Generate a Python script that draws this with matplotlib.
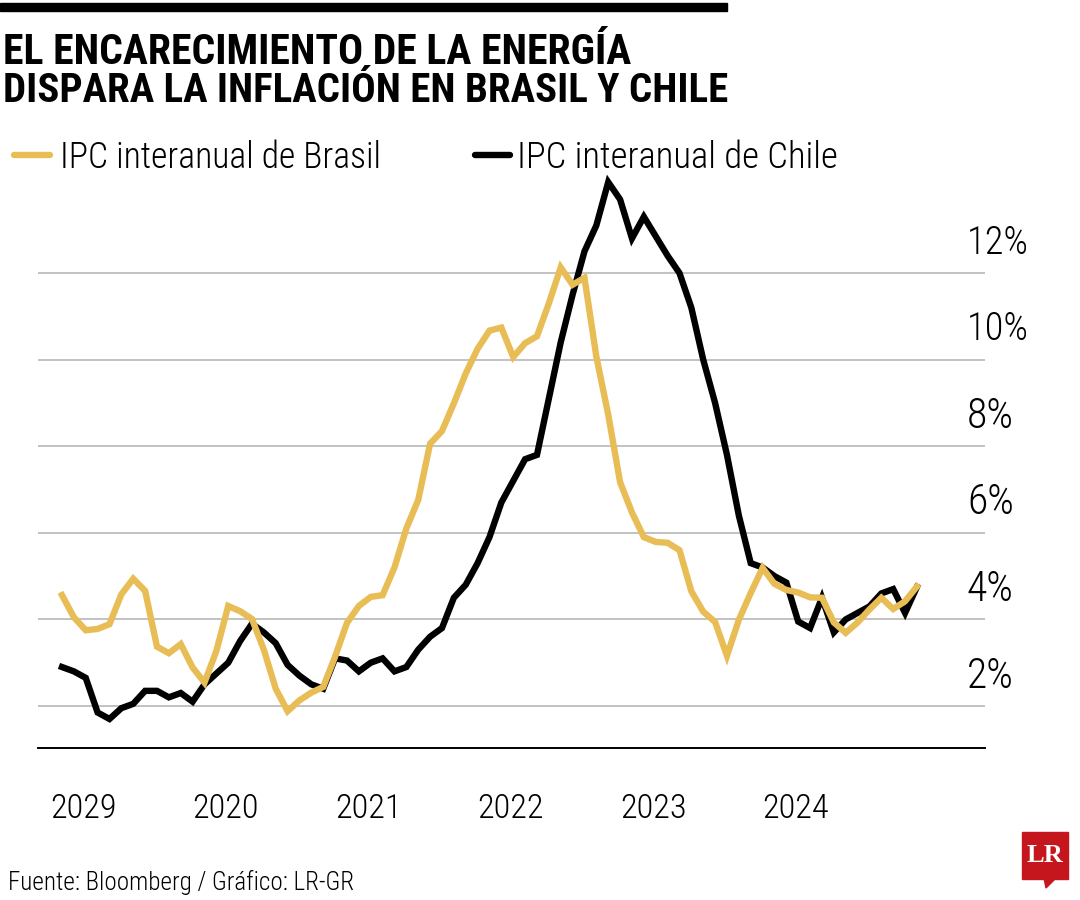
import matplotlib
matplotlib.use("Agg")
import matplotlib.pyplot as plt
from matplotlib import font_manager
from matplotlib.font_manager import FontProperties
from matplotlib.lines import Line2D
from matplotlib.patches import Rectangle, Polygon
import numpy as np

# look for a narrow / condensed face, fall back to DejaVu Sans
def find_face(bold, light=False):
    best = None
    for f in font_manager.fontManager.ttflist:
        fn = f.fname.lower()
        if not ("narrow" in fn or "condensed" in fn):
            continue
        if "oblique" in fn or "italic" in fn or "extralight" in fn or "thin" in fn:
            continue
        if "semibold" in fn or "medium" in fn or "black" in fn or "extrabold" in fn:
            continue
        isbold = "bold" in fn or f.weight in ("bold", 700)
        if isbold != bold:
            continue
        rank = 0 if "liberation" in fn else (1 if "roboto" in fn else 2)
        if not bold:
            rank = rank * 2 + (0 if (("light" in fn) == light) else 1)
        if best is None or rank < best[0]:
            best = (rank, f.fname)
    if best:
        return FontProperties(fname=best[1])
    return FontProperties(family="DejaVu Sans", weight="bold" if bold else "normal")

reg = find_face(False, light=True)
bold = find_face(True)

# monthly year-on-year CPI, Oct 2018 .. Oct 2024
brasil = [4.56, 4.05, 3.75,
          3.78, 3.89, 4.58, 4.94, 4.66, 3.37, 3.22, 3.43, 2.89, 2.54, 3.27, 4.31,
          4.19, 4.01, 3.30, 2.40, 1.88, 2.13, 2.31, 2.44, 3.14, 3.92, 4.31, 4.52,
          4.56, 5.20, 6.10, 6.76, 8.06, 8.35, 8.99, 9.68, 10.25, 10.67, 10.74, 10.06,
          10.38, 10.54, 11.30, 12.13, 11.73, 11.89, 10.07, 8.73, 7.17, 6.47, 5.90, 5.79,
          5.77, 5.60, 4.65, 4.18, 3.94, 3.16, 3.99, 4.61, 5.19, 4.82, 4.68, 4.62,
          4.51, 4.50, 3.93, 3.69, 3.93, 4.23, 4.50, 4.24, 4.42, 4.76]
chile = [2.9, 2.8, 2.65,
         1.85, 1.7, 1.95, 2.05, 2.35, 2.35, 2.2, 2.3, 2.1, 2.5, 2.75, 3.0,
         3.5, 3.9, 3.7, 3.45, 2.95, 2.7, 2.5, 2.4, 3.1, 3.05, 2.8, 3.0,
         3.1, 2.8, 2.9, 3.3, 3.6, 3.8, 4.5, 4.8, 5.3, 5.9, 6.7, 7.2,
         7.7, 7.8, 9.1, 10.4, 11.5, 12.5, 13.1, 14.1, 13.7, 12.8, 13.3, 12.85,
         12.4, 12.0, 11.2, 10.0, 9.0, 7.8, 6.4, 5.3, 5.2, 5.0, 4.85, 3.95,
         3.8, 4.5, 3.7, 4.0, 4.15, 4.3, 4.6, 4.7, 4.15, 4.75]
year_labels = ["2029", "2020", "2021", "2022", "2023", "2024"]
year_pos = [1.8, 13.8, 25.8, 37.8, 49.8, 61.8]
y_ticks = [2, 4, 6, 8, 10, 12]

yellow = "#E8BD55"
W, H = 1080, 900

fig = plt.figure(figsize=(10.8, 9), dpi=100)
ax = fig.add_axes([38 / W, 1 - 748 / H, (985 - 38) / W, (748 - 170) / H])
x = np.arange(len(brasil))

for v in y_ticks:
    ax.axhline(v, color="#BDBDBD", lw=1.3, zorder=1)
ax.plot(x, chile, color="black", lw=4.6, zorder=3, solid_joinstyle="miter")
ax.plot(x, brasil, color=yellow, lw=4.6, zorder=4, solid_joinstyle="miter")

ax.set_xlim(-2.02, 77.73)
ax.set_ylim(1.03, 14.38)
for s in ["top", "right", "left"]:
    ax.spines[s].set_visible(False)
ax.spines["bottom"].set_linewidth(1.4)
ax.set_xticks([])
ax.set_yticks([])

fits = []  # (text, target width in px)
for v in y_ticks:
    t = fig.text(967 / W, 1 - (706 - (v - 2) * 43.3 - 30) / H, "{}%".format(v),
                 fontproperties=reg, fontsize=26, ha="left", va="center")
    fits.append((t, 62 if v >= 10 else 47))
for p, lab in zip(year_pos, year_labels):
    t = ax.text(p, -0.105, lab, transform=ax.get_xaxis_transform(), fontsize=26,
                fontproperties=reg, ha="center", va="center")
    fits.append((t, 67))

# title block
fig.add_artist(Rectangle((0, 1 - 11 / H), 727 / W, 8 / H, color="black",
                         transform=fig.transFigure))
t1 = fig.text(3 / W, 1 - 64 / H, "EL ENCARECIMIENTO DE LA ENERGÍA", fontsize=28,
              fontproperties=bold, ha="left", va="baseline")
t2 = fig.text(3 / W, 1 - 102 / H, "DISPARA LA INFLACIÓN EN BRASIL Y CHILE", fontsize=28,
              fontproperties=bold, ha="left", va="baseline")
fits += [(t1, 630), (t2, 725)]

# legend
fig.add_artist(Line2D([14 / W, 50 / W], [1 - 155 / H] * 2, color=yellow, lw=4.6,
                      solid_capstyle="round", transform=fig.transFigure))
l1 = fig.text(60 / W, 1 - 168 / H, "IPC interanual de Brasil", fontsize=25,
              fontproperties=reg, ha="left", va="baseline")
fig.add_artist(Line2D([475 / W, 510 / W], [1 - 155 / H] * 2, color="black", lw=4.6,
                      solid_capstyle="round", transform=fig.transFigure))
l2 = fig.text(517 / W, 1 - 168 / H, "IPC interanual de Chile", fontsize=25,
              fontproperties=reg, ha="left", va="baseline")
src = fig.text(8 / W, 1 - 890 / H, "Fuente: Bloomberg / Gráfico: LR-GR", fontsize=17,
               fontproperties=reg, ha="left", va="baseline")
fits += [(l1, 322), (l2, 321), (src, 347)]

# LR logo
red = "#C4161C"
fig.add_artist(Rectangle((1022 / W, 1 - 879 / H), 46 / W, 47 / H, color=red,
                         transform=fig.transFigure))
fig.add_artist(Polygon([(1044 / W, 1 - 878 / H), (1056 / W, 1 - 878 / H),
                        (1046 / W, 1 - 888 / H)], color=red, transform=fig.transFigure))
fig.text(1045 / W, 1 - 856 / H, "LR", fontsize=19, weight="bold", family="Liberation Serif",
         color="white", ha="center", va="center")

# size each text so its width matches the reference
fig.canvas.draw()
r = fig.canvas.get_renderer()
for t, w in fits:
    bb = t.get_window_extent(r)
    t.set_fontsize(t.get_fontsize() * w / bb.width)

fig.savefig("out.png", dpi=100, facecolor="white")
